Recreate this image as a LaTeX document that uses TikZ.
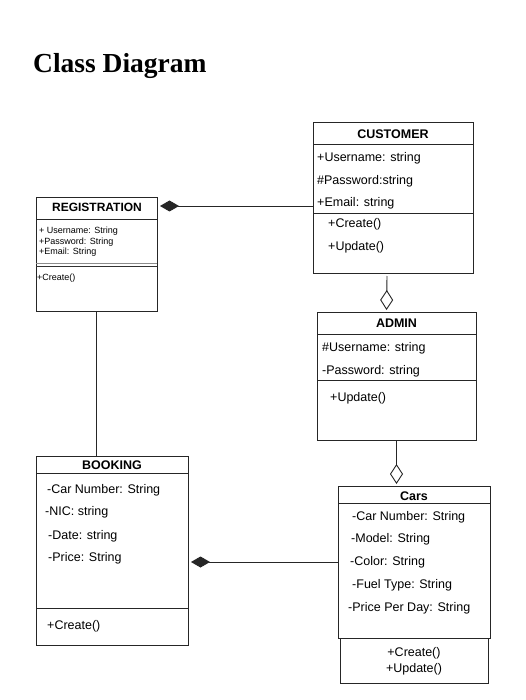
\documentclass[tikz,border=0pt]{standalone}
\usepackage{fontspec}
\setmainfont{Liberation Serif}
\setsansfont{Liberation Sans}
\usetikzlibrary{arrows.meta,calc}
\tikzset{
  box/.style={draw=black!85, line width=0.9pt, rectangle, inner sep=0pt, outer sep=0pt, anchor=north west},
  sep/.style={draw=black!85, line width=0.9pt},
  attr/.style={anchor=base west, inner sep=0pt, font=\sffamily\fontsize{12.5}{14}\selectfont},
  small/.style={anchor=base west, inner sep=0pt, font=\sffamily\fontsize{9}{10}\selectfont},
  head/.style={anchor=base, inner sep=0pt, font=\sffamily\bfseries\fontsize{12.5}{14}\selectfont},
  ctr/.style={anchor=base, inner sep=0pt, font=\sffamily\fontsize{12.5}{14}\selectfont},
  link/.style={draw=black!85, line width=0.9pt},
  comp/.style={link, -{Diamond[length=19pt,width=11pt]}, shorten >=3pt},
  aggr/.style={link, -{Diamond[open,length=20pt,width=13pt]}, shorten >=2pt}
}
\begin{document}
\begin{tikzpicture}[x=1pt,y=-1pt]
\useasboundingbox (0,0) rectangle (526,700);
\fill[white] (0,0) rectangle (526,700);

\node[anchor=base west, inner sep=0pt, font=\rmfamily\bfseries\fontsize{27.5}{30}\selectfont] (title) at (33,73) {Class Diagram};

% REGISTRATION
\node[box, minimum width=121pt, minimum height=114pt] (reg) at (36,197) {};
\draw[sep] (36,219) -- (157,219);
\draw[draw=black!45, line width=0.6pt] (36,263) -- (157,263);
\draw[draw=black!80, line width=1.4pt] (36,266.5) -- (157,266.5);
\node[head, font=\sffamily\bfseries\fontsize{12}{14}\selectfont] (regt) at (97,211.5) {REGISTRATION};
\node[small] (rega1) at (39,233.2) {+ Username: String};
\node[small] (rega2) at (39,244.2) {+Password: String};
\node[small] (rega3) at (39,254.2) {+Email: String};
\node[small] (regm1) at (37,280.2) {+Create()};

% CUSTOMER
\node[box, minimum width=160pt, minimum height=151pt] (cust) at (313,122) {};
\draw[sep] (313,144) -- (473,144);
\draw[sep] (313,213) -- (473,213);
\node[head] (custt) at (393,138.5) {CUSTOMER};
\node[attr] (custa1) at (317,161.5) {+Username: string};
\node[attr] (custa2) at (317,184.5) {\#Password:string};
\node[attr] (custa3) at (317,206.5) {+Email: string};
\node[attr] (custm1) at (328,227.5) {+Create()};
\node[attr] (custm2) at (328,250.5) {+Update()};

% ADMIN
\node[box, minimum width=159pt, minimum height=128pt] (admin) at (317,312) {};
\draw[sep] (317,334) -- (476,334);
\draw[sep] (317,380) -- (476,380);
\node[head] (admint) at (396.5,327.5) {ADMIN};
\node[attr] (admina1) at (322,351.5) {\#Username: string};
\node[attr] (admina2) at (322,374.5) {-Password: string};
\node[attr] (adminm1) at (330,401.5) {+Update()};

% BOOKING
\node[box, minimum width=152pt, minimum height=189pt] (book) at (36,456) {};
\draw[sep] (36,473) -- (188,473);
\draw[sep] (36,608) -- (188,608);
\node[head] (bookt) at (112,469.5) {BOOKING};
\node[attr] (booka1) at (47,493.5) {-Car Number: String};
\node[attr] (booka2) at (45,515.5) {-NIC: string};
\node[attr] (booka3) at (48,539.5) {-Date: string};
\node[attr] (booka4) at (48,561.5) {-Price: String};
\node[attr] (bookm1) at (47,629.5) {+Create()};

% CARS
\node[box, minimum width=152pt, minimum height=152pt] (cars) at (338,486) {};
\node[box, minimum width=148pt, minimum height=45pt] (carsops) at (340,638) {};
\draw[sep] (338,503) -- (490,503);
\node[head] (carst) at (414,500.5) {Cars};
\node[attr] (carsa1) at (352,520.5) {-Car Number: String};
\node[attr] (carsa2) at (351,542.5) {-Model: String};
\node[attr] (carsa3) at (350,565.5) {-Color: String};
\node[attr] (carsa4) at (352,588.5) {-Fuel Type: String};
\node[attr] (carsa5) at (348,611.5) {-Price Per Day: String};
\node[ctr] (carsm1) at (414,656.5) {+Create()};
\node[ctr] (carsm2) at (414,672.5) {+Update()};

% connectors
\coordinate (regc) at ($(reg.north east)+(0,9)$);
\draw[comp] (regc -| cust.west) -- (regc);
\draw[aggr] ($(cust.south)+(-6,3)$) -- ($(admin.north)+(-10,0)$);
\draw[aggr] (admin.south) -- (admin.south |- cars.north);
\draw[link] (reg.south) -- (reg.south |- book.north);
\draw[comp] (cars.west) -- (cars.west -| book.east);
\end{tikzpicture}
\end{document}
